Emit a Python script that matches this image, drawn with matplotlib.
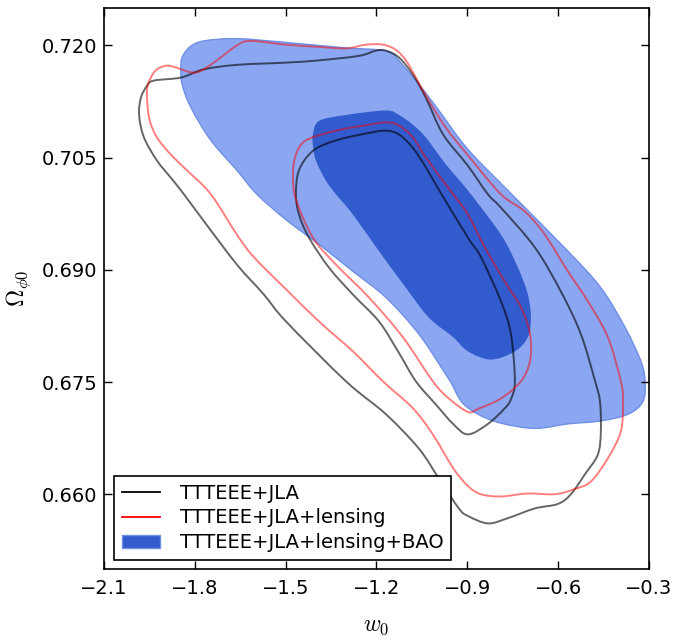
import matplotlib
matplotlib.use("Agg")
import matplotlib.pyplot as plt
import numpy as np
from matplotlib.lines import Line2D
from matplotlib.patches import Patch, PathPatch
from matplotlib.path import Path

plt.rcParams['mathtext.fontset'] = 'cm'
plt.rcParams['font.family'] = ['DejaVu Sans']

# contour outlines: (w0, Omega_phi0)
# TTTEEE+JLA+lensing+BAO, 95% region
bao_95_w = [-1.842, -1.816, -1.770, -1.661, -1.499, -1.311, -1.192, -1.149, -1.126, -1.060,
            -0.994, -0.898, -0.756, -0.568, -0.459, -0.379, -0.327, -0.313, -0.320, -0.369,
            -0.459, -0.568, -0.677, -0.789, -0.865, -0.918, -0.951, -0.971, -1.060, -1.169,
            -1.278, -1.390, -1.499, -1.595, -1.661, -1.747, -1.813, -1.842, -1.846]
bao_95_om = [0.7184, 0.7198, 0.7206, 0.7209, 0.7204, 0.7197, 0.7194, 0.7189, 0.7180, 0.7148,
             0.7113, 0.7061, 0.7002, 0.6925, 0.6876, 0.6823, 0.6778, 0.6751, 0.6724, 0.6707,
             0.6698, 0.6694, 0.6688, 0.6695, 0.6707, 0.6723, 0.6747, 0.6760, 0.6814, 0.6863,
             0.6898, 0.6934, 0.6967, 0.7001, 0.7033, 0.7073, 0.7117, 0.7148, 0.7168]

# TTTEEE+JLA+lensing+BAO, 68% region
bao_68_w = [-1.410, -1.390, -1.301, -1.169, -1.126, -1.080, -1.037, -0.971, -0.898, -0.789,
            -0.733, -0.700, -0.690, -0.700, -0.743, -0.822, -0.898, -0.947, -1.027, -1.103,
            -1.192, -1.278, -1.334, -1.367, -1.400, -1.410]
bao_68_om = [0.7081, 0.7099, 0.7107, 0.7113, 0.7107, 0.7094, 0.7077, 0.7041, 0.7006, 0.6947,
             0.6903, 0.6867, 0.6836, 0.6810, 0.6791, 0.6780, 0.6791, 0.6810, 0.6836, 0.6876,
             0.6925, 0.6974, 0.7001, 0.7019, 0.7046, 0.7067]

# TTTEEE+JLA, 95% and 68%
jla_95_w = [-1.499, -1.390, -1.258, -1.202, -1.169, -1.126, -1.080, -1.037, -0.980, -0.898,
            -0.832, -0.789, -0.677, -0.591, -0.525, -0.478, -0.462, -0.459, -0.469, -0.511,
            -0.558, -0.601, -0.677, -0.766, -0.832, -0.898, -0.928, -0.994, -1.060, -1.169,
            -1.301, -1.499, -1.572, -1.661, -1.770, -1.836, -1.879, -1.925, -1.968, -1.984,
            -1.978, -1.958, -1.935, -1.846, -1.770, -1.661]
jla_95_om = [0.7177, 0.7180, 0.7186, 0.7193, 0.7193, 0.7184, 0.7161, 0.7130, 0.7081, 0.7039,
             0.7001, 0.6983, 0.6930, 0.6871, 0.6814, 0.6751, 0.6724, 0.6684, 0.6653, 0.6627,
             0.6600, 0.6587, 0.6581, 0.6568, 0.6561, 0.6571, 0.6581, 0.6621, 0.6661, 0.6707,
             0.6751, 0.6831, 0.6867, 0.6907, 0.6965, 0.7001, 0.7023, 0.7046, 0.7077, 0.7107,
             0.7130, 0.7146, 0.7153, 0.7157, 0.7168, 0.7174]
jla_68_w = [-1.466, -1.456, -1.410, -1.334, -1.225, -1.169, -1.126, -1.080, -1.037, -0.994,
            -0.898, -0.855, -0.789, -0.756, -0.743, -0.756, -0.776, -0.832, -0.898, -0.947,
            -1.004, -1.070, -1.129, -1.192, -1.278, -1.357, -1.423, -1.456]
jla_68_om = [0.7001, 0.7033, 0.7059, 0.7073, 0.7083, 0.7086, 0.7081, 0.7063, 0.7037, 0.7007,
             0.6943, 0.6917, 0.6858, 0.6814, 0.6751, 0.6727, 0.6715, 0.6694, 0.6680, 0.6694,
             0.6720, 0.6751, 0.6791, 0.6831, 0.6867, 0.6903, 0.6943, 0.6974]

# TTTEEE+JLA+lensing, 95% and 68%
lens_95_w = [-1.499, -1.390, -1.301, -1.235, -1.179, -1.136, -1.103, -1.070, -1.027, -0.971,
             -0.898, -0.789, -0.710, -0.644, -0.568, -0.502, -0.436, -0.393, -0.386, -0.393,
             -0.436, -0.492, -0.545, -0.611, -0.700, -0.789, -0.855, -0.898, -0.947, -1.014,
             -1.080, -1.179, -1.278, -1.390, -1.499, -1.605, -1.661, -1.747, -1.826,
             -1.879, -1.925, -1.951, -1.958, -1.945, -1.925, -1.892, -1.859, -1.813, -1.780,
             -1.727, -1.661, -1.615]
lens_95_om = [0.7201, 0.7198, 0.7196, 0.7201, 0.7201, 0.7194, 0.7180, 0.7157, 0.7126, 0.7090,
              0.7053, 0.7001, 0.6978, 0.6947, 0.6898, 0.6858, 0.6810, 0.6751, 0.6724, 0.6684,
              0.6648, 0.6617, 0.6607, 0.6600, 0.6601, 0.6597, 0.6600, 0.6611, 0.6635, 0.6680,
              0.6715, 0.6751, 0.6791, 0.6831, 0.6874, 0.6917, 0.6947, 0.7001, 0.7033,
              0.7054, 0.7077, 0.7103, 0.7140, 0.7157, 0.7168, 0.7173, 0.7170, 0.7164, 0.7166,
              0.7180, 0.7200, 0.7206]
lens_68_w = [-1.476, -1.466, -1.433, -1.334, -1.225, -1.169, -1.126, -1.080, -1.037, -0.947,
             -0.898, -0.842, -0.776, -0.723, -0.693, -0.693, -0.723, -0.789, -0.865, -0.898,
             -0.961, -1.014, -1.113, -1.225, -1.334, -1.410, -1.466]
lens_68_om = [0.7027, 0.7054, 0.7073, 0.7086, 0.7094, 0.7097, 0.7093, 0.7077, 0.7050, 0.7001,
              0.6974, 0.6930, 0.6884, 0.6850, 0.6814, 0.6778, 0.6751, 0.6728, 0.6714, 0.6710,
              0.6728, 0.6751, 0.6810, 0.6863, 0.6907, 0.6943, 0.6994]

labels = ['TTTEEE+JLA', 'TTTEEE+JLA+lensing', 'TTTEEE+JLA+lensing+BAO']


def smooth_path(xs, ys):
    # closed curve through the given points, drawn as cubic bezier segments
    p = np.column_stack([xs, ys])
    n = len(p)
    verts = [p[0]]
    codes = [Path.MOVETO]
    for i in range(n):
        p0, p1, p2, p3 = p[i - 1], p[i], p[(i + 1) % n], p[(i + 2) % n]
        verts += [p1 + (p2 - p0) / 6, p2 - (p3 - p1) / 6, p2]
        codes += [Path.CURVE4] * 3
    verts.append(p[0])
    codes.append(Path.CLOSEPOLY)
    return Path(verts, codes)


fig = plt.figure(figsize=(6.74, 6.4), dpi=100)
ax = fig.add_axes([0.1543, 0.1109, 0.8086, 0.8766])

# filled BAO contours
ax.add_patch(PathPatch(smooth_path(bao_95_w, bao_95_om), facecolor='#8ba7f1',
                       edgecolor='#6f8fe6', lw=1.0, zorder=1))
ax.add_patch(PathPatch(smooth_path(bao_68_w, bao_68_om), facecolor='#325bcd',
                       edgecolor='none', zorder=2))

# line contours
for xs, ys in [(jla_95_w, jla_95_om), (jla_68_w, jla_68_om)]:
    ax.add_patch(PathPatch(smooth_path(xs, ys), fill=False, edgecolor='black',
                           alpha=0.6, lw=1.4, zorder=3))
for xs, ys in [(lens_95_w, lens_95_om), (lens_68_w, lens_68_om)]:
    ax.add_patch(PathPatch(smooth_path(xs, ys), fill=False, edgecolor='red',
                           alpha=0.5, lw=1.4, zorder=3))

ax.set_xlim(-2.1, -0.3)
ax.set_ylim(0.65, 0.725)
ax.set_xticks([-2.1, -1.8, -1.5, -1.2, -0.9, -0.6, -0.3])
ax.set_yticks([0.660, 0.675, 0.690, 0.705, 0.720])
ax.set_xticklabels(['\u22122.1', '\u22121.8', '\u22121.5', '\u22121.2', '\u22120.9', '\u22120.6', '\u22120.3'])
ax.set_yticklabels(['0.660', '0.675', '0.690', '0.705', '0.720'])
ax.tick_params(axis='both', direction='in', top=True, right=True, length=6, width=1, labelsize=14)
ax.tick_params(axis='x', pad=7)
ax.tick_params(axis='y', pad=5)
for sp in ax.spines.values():
    sp.set_linewidth(1.2)

ax.set_xlabel(r'$w_0$', fontsize=17, labelpad=11)
ax.set_ylabel(r'$\Omega_{\phi 0}$', fontsize=17, labelpad=6)

handles = [Line2D([], [], color='black', lw=1.3),
           Line2D([], [], color='red', lw=1.3),
           Patch(facecolor='#325bcd', edgecolor='#6f8fe6')]
leg = ax.legend(handles, labels, loc='lower left', bbox_to_anchor=(0.018, 0.016),
                borderaxespad=0, fontsize=14, fancybox=False, framealpha=1,
                edgecolor='black', handlelength=2.0, borderpad=0.4, labelspacing=0.3,
                handletextpad=1.0)
leg.get_frame().set_linewidth(1.2)

fig.savefig('out.png', dpi=100)
